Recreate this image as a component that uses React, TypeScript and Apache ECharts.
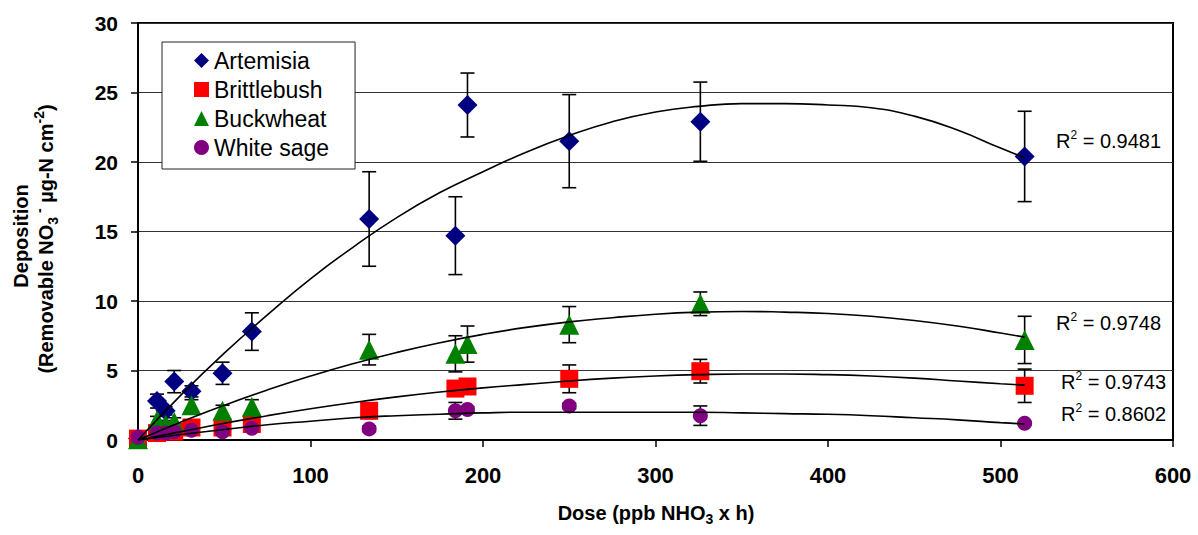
import React, { useEffect, useRef } from 'react';
import * as echarts from 'echarts';

// ---- data ----
const dose = [0, 11, 16, 21, 31, 49, 66, 134, 184, 191, 250, 326, 514];

const artemisia = [0.1, 2.8, 2.1, 4.2, 3.5, 4.8, 7.8, 15.9, 14.7, 24.1, 21.5, 22.9, 20.4];
const artemisiaErr = [0.1, 0.5, 0.3, 0.8, 0.4, 0.8, 1.35, 3.4, 2.8, 2.3, 3.35, 2.85, 3.25];

const brittlebush = [0.1, 0.5, 0.7, 0.6, 0.9, 0.9, 1.15, 2.1, 3.7, 3.85, 4.4, 4.95, 3.9];
const brittlebushErr = [0.1, 0.2, 0.2, 0.2, 0.2, 0.3, 0.3, 0.4, 0.3, 0.3, 1.0, 0.85, 1.2];

const buckwheat = [0.05, 1.4, 1.1, 1.3, 2.5, 2.1, 2.4, 6.5, 6.2, 6.9, 8.3, 9.8, 7.2];
const buckwheatErr = [0.1, 0.3, 0.3, 0.3, 0.4, 0.4, 0.5, 1.1, 1.3, 1.3, 1.3, 0.85, 1.7];

const whiteSage = [0.2, 0.5, 0.5, 0.6, 0.7, 0.6, 0.85, 0.8, 2.1, 2.2, 2.45, 1.75, 1.2];
const whiteSageErr = [0.1, 0.1, 0.1, 0.1, 0.1, 0.1, 0.1, 0.2, 0.6, 0.2, 0.2, 0.7, 0.1];

// trend lines
const trendX = [0, 25, 50, 75, 100, 125, 150, 175, 200, 225, 250, 275, 300, 325, 350, 375, 400, 425, 450, 475, 500, 514];
const artemisiaTrend = [0, 3.25, 6.25, 9.0, 11.6, 13.9, 16.0, 17.8, 19.3, 20.7, 21.9, 22.9, 23.6, 24.0, 24.2, 24.2, 24.1, 23.9, 23.3, 22.3, 21.0, 20.3];
const brittlebushTrend = [0, 0.6, 1.2, 1.75, 2.25, 2.7, 3.1, 3.45, 3.75, 4.0, 4.25, 4.45, 4.6, 4.7, 4.75, 4.75, 4.7, 4.6, 4.45, 4.25, 4.05, 3.95];
const buckwheatTrend = [0, 1.3, 2.5, 3.6, 4.6, 5.5, 6.3, 7.0, 7.6, 8.1, 8.5, 8.8, 9.05, 9.2, 9.25, 9.2, 9.1, 8.9, 8.6, 8.2, 7.7, 7.4];
const whiteSageTrend = [0, 0.4, 0.75, 1.1, 1.35, 1.6, 1.75, 1.85, 1.95, 2.0, 2.0, 2.0, 2.0, 2.0, 1.95, 1.9, 1.85, 1.75, 1.6, 1.45, 1.25, 1.15];

const r2Labels = ['0.9481', '0.9748', '0.9743', '0.8602'];

const FONT = 'Liberation Sans, Arial, sans-serif';

const seriesDefs = [
  { name: 'Artemisia', values: artemisia, err: artemisiaErr, trend: artemisiaTrend, color: '#000080', symbol: 'diamond', size: 20 },
  { name: 'Brittlebush', values: brittlebush, err: brittlebushErr, trend: brittlebushTrend, color: '#FF0000', symbol: 'rect', size: 18 },
  { name: 'Buckwheat', values: buckwheat, err: buckwheatErr, trend: buckwheatTrend, color: '#008000', symbol: 'triangle', size: 20 },
  { name: 'White sage', values: whiteSage, err: whiteSageErr, trend: whiteSageTrend, color: '#800080', symbol: 'circle', size: 15 },
];

const r2Pos = [
  { x: 1056, y: 141 },
  { x: 1056, y: 323 },
  { x: 1061, y: 382 },
  { x: 1061, y: 414 },
];

function buildOption() {
  const series: any[] = [];
  seriesDefs.forEach((s) => {
    series.push({
      type: 'custom',
      name: s.name + ' error',
      silent: true,
      z: 2,
      data: dose.map((d, i) => [d, s.values[i] - s.err[i], s.values[i] + s.err[i]]),
      encode: { x: 0, y: [1, 2] },
      renderItem: (params: any, api: any) => {
        const lo = api.coord([api.value(0), api.value(1)]);
        const hi = api.coord([api.value(0), api.value(2)]);
        const w = 7;
        const st = { stroke: '#000', lineWidth: 1.6 };
        return {
          type: 'group',
          children: [
            { type: 'line', shape: { x1: hi[0], y1: hi[1], x2: lo[0], y2: lo[1] }, style: st },
            { type: 'line', shape: { x1: hi[0] - w, y1: hi[1], x2: hi[0] + w, y2: hi[1] }, style: st },
            { type: 'line', shape: { x1: lo[0] - w, y1: lo[1], x2: lo[0] + w, y2: lo[1] }, style: st },
          ],
        };
      },
    });
  });
  seriesDefs.forEach((s) => {
    series.push({
      type: 'scatter',
      name: s.name,
      z: 3,
      symbol: s.symbol,
      symbolSize: s.size,
      itemStyle: { color: s.color, opacity: 1 },
      data: dose.map((d, i) => [d, s.values[i]]),
    });
  });
  seriesDefs.forEach((s) => {
    series.push({
      type: 'line',
      name: s.name + ' trend',
      z: 4,
      silent: true,
      smooth: 0.5,
      symbol: 'none',
      lineStyle: { color: '#000', width: 1.6 },
      data: trendX.map((x, i) => [x, s.trend[i]]),
    });
  });

  const graphics: any[] = [
    {
      type: 'text',
      x: 656,
      y: 513,
      style: {
        text: '{b|Dose (ppb NHO}{s|3}{b| x h)}',
        textAlign: 'center',
        textVerticalAlign: 'middle',
        rich: {
          b: { fontSize: 20, fontWeight: 'bold', fontFamily: FONT, fill: '#000', lineHeight: 26, verticalAlign: 'middle' },
          s: { fontSize: 14, fontWeight: 'bold', fontFamily: FONT, fill: '#000', lineHeight: 26, verticalAlign: 'bottom' },
        },
      },
    },
    {
      type: 'text',
      x: 21,
      y: 236,
      rotation: Math.PI / 2,
      style: {
        text: 'Deposition',
        textAlign: 'center',
        textVerticalAlign: 'middle',
        fontSize: 20,
        fontWeight: 'bold',
        fontFamily: FONT,
        fill: '#000',
      },
    },
    {
      type: 'text',
      x: 46,
      y: 239,
      rotation: Math.PI / 2,
      style: {
        text: '{b|(Removable NO}{s|3}{p| -}{b| µg-N cm}{p|-2}{b|)}',
        textAlign: 'center',
        textVerticalAlign: 'middle',
        rich: {
          b: { fontSize: 20, fontWeight: 'bold', fontFamily: FONT, fill: '#000', lineHeight: 28, verticalAlign: 'middle' },
          s: { fontSize: 14, fontWeight: 'bold', fontFamily: FONT, fill: '#000', lineHeight: 28, verticalAlign: 'bottom' },
          p: { fontSize: 14, fontWeight: 'bold', fontFamily: FONT, fill: '#000', lineHeight: 28, verticalAlign: 'top' },
        },
      },
    },
  ];
  r2Labels.forEach((v, i) => {
    graphics.push({
      type: 'text',
      x: r2Pos[i].x,
      y: r2Pos[i].y,
      z: 10,
      style: {
        text: '{n|R}{p|2}{n| = ' + v + '}',
        textAlign: 'left',
        textVerticalAlign: 'middle',
        rich: {
          n: { fontSize: 20, fontFamily: FONT, fill: '#000', lineHeight: 24, verticalAlign: 'middle' },
          p: { fontSize: 12, fontFamily: FONT, fill: '#000', lineHeight: 24, verticalAlign: 'top' },
        },
      },
    });
  });

  return {
    animation: false,
    backgroundColor: '#fff',
    grid: {
      left: 138,
      right: 25,
      top: 23,
      bottom: 95,
      show: true,
      borderColor: '#000',
      borderWidth: 2,
      backgroundColor: 'transparent',
    },
    legend: {
      left: 162,
      top: 42,
      orient: 'vertical',
      backgroundColor: '#fff',
      borderColor: '#222',
      borderWidth: 1,
      padding: [7, 26, 10, 32],
      itemGap: 6,
      itemWidth: 15,
      itemHeight: 15,
      itemStyle: { opacity: 1 },
      textStyle: { fontSize: 23, fontFamily: FONT, color: '#000', lineHeight: 22 },
      data: seriesDefs.map((s) => ({ name: s.name, icon: s.symbol })),
      z: 8,
    },
    xAxis: {
      type: 'value',
      min: 0,
      max: 600,
      interval: 100,
      axisLine: { show: true, lineStyle: { color: '#000', width: 2 } },
      axisTick: { show: true, inside: false, length: 7, lineStyle: { color: '#000', width: 1.5 } },
      axisLabel: { margin: 24, color: '#000', fontSize: 22, fontWeight: 'bold', fontFamily: FONT },
      splitLine: { show: false },
    },
    yAxis: {
      type: 'value',
      min: 0,
      max: 30,
      interval: 5,
      axisLine: { show: true, lineStyle: { color: '#000', width: 2 } },
      axisTick: { show: true, inside: false, length: 7, lineStyle: { color: '#000', width: 1.5 } },
      axisLabel: { margin: 20, color: '#000', fontSize: 21, fontWeight: 'bold', fontFamily: FONT },
      splitLine: { show: true, lineStyle: { color: '#333', width: 1 } },
    },
    graphic: graphics,
    series,
  };
}

export default function App() {
  const ref = useRef<HTMLDivElement>(null);
  useEffect(() => {
    document.body.style.margin = '0';
    const chart = echarts.init(ref.current as HTMLDivElement, null, { renderer: 'svg' });
    chart.setOption(buildOption() as any);
    return () => chart.dispose();
  }, []);
  return <div ref={ref} style={{ width: 1198, height: 535 }} />;
}
